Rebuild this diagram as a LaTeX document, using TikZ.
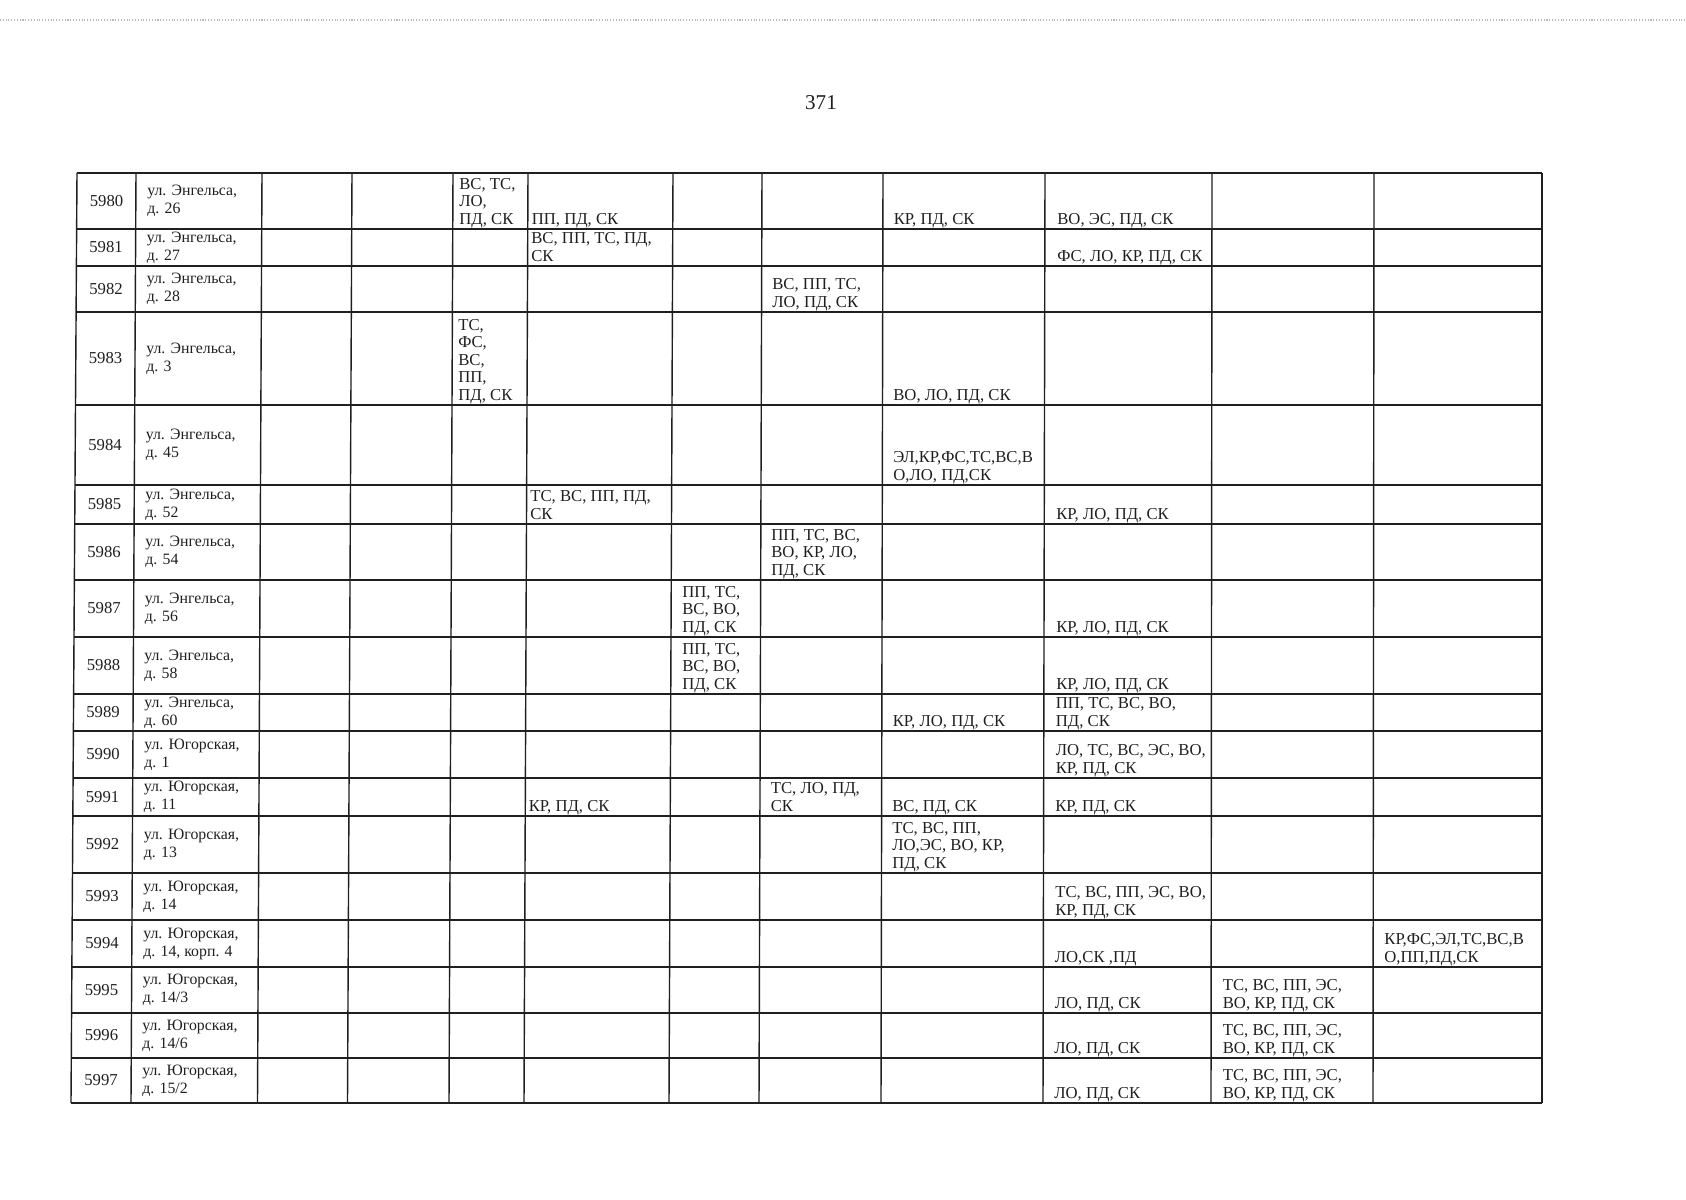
\documentclass[tikz,border=0pt]{standalone}
\usepackage{fontspec}
\setmainfont{Liberation Serif}
\definecolor{ink}{gray}{0.12}
\definecolor{speck}{gray}{0.72}

\begin{document}
\begin{tikzpicture}[x=0.2mm,y=-0.2mm]
    \tikzset{%
      gridline/.style={ink, line width=0.8pt},
      num/.style={anchor=center, inner sep=0pt, ink,
        font=\fontsize{9.5}{9.9}\selectfont},
      addr/.style={anchor=west, align=left, inner sep=0pt, ink,
        font=\fontsize{9}{10.2}\selectfont},
      cell/.style={anchor=south west, align=left, inner sep=0pt, ink,
        font=\fontsize{9.5}{9.9}\selectfont,
        execute at end node={\rule[-2.6pt]{0pt}{0pt}}},
      pageno/.style={anchor=center, inner sep=0pt, ink,
        font=\fontsize{12}{12}\selectfont},
    }
    \useasboundingbox (0,0) rectangle (1686,1200);
    % scan noise along the top edge
    \draw [speck, densely dotted, line width=0.6pt] (0,20) -- (1686,20);
    \node[pageno] (P) at (821,103) {371};

    % vertical rules (the scan is slightly skewed)
    \draw [gridline] (77,173) -- (71,1103);
    \draw [gridline] (136,173) -- (131,1103);
    \draw [gridline] (262,173) -- (257.5,1103);
    \draw [gridline] (352,173) -- (347.5,1103);
    \draw [gridline] (453,173) -- (449,1103);
    \draw [gridline] (528,173) -- (524,1103);
    \draw [gridline] (673,173) -- (669,1103);
    \draw [gridline] (762,173) -- (759,1103);
    \draw [gridline] (883,173) -- (881,1103);
    \draw [gridline] (1045,173) -- (1043,1103);
    \draw [gridline] (1212,173) -- (1211,1103);
    \draw [gridline] (1374,173) -- (1373,1103);
    \draw [gridline] (1542,173) -- (1542,1103);
    % horizontal rules
    \draw [gridline] (77,173) -- (1542,173);
    \draw [gridline] (76.6,229) -- (1542,229);
    \draw [gridline] (76.4,266) -- (1542,266);
    \draw [gridline] (76.1,312) -- (1542,312);
    \draw [gridline] (75.5,405) -- (1542,405);
    \draw [gridline] (75,485) -- (1542,485);
    \draw [gridline] (74.7,524) -- (1542,524);
    \draw [gridline] (74.4,580) -- (1542,580);
    \draw [gridline] (74,637) -- (1542,637);
    \draw [gridline] (73.6,694) -- (1542,694);
    \draw [gridline] (73.4,731) -- (1542,731);
    \draw [gridline] (73.1,778) -- (1542,778);
    \draw [gridline] (72.9,816) -- (1542,816);
    \draw [gridline] (72.5,873) -- (1542,873);
    \draw [gridline] (72.2,920) -- (1542,920);
    \draw [gridline] (71.9,967) -- (1542,967);
    \draw [gridline] (71.6,1013) -- (1542,1013);
    \draw [gridline] (71.3,1058) -- (1542,1058);
    \draw [gridline] (71,1103) -- (1542,1103);

    % 5980
    \node[num] (N80) at (106.5,201) {5980};
    \node[addr] (A80) at (147,201) {ул. Энгельса,\\д. 26};
    \node[cell] (E80d) at (459,229) {ВС, ТС,\\ЛО,\\ПД, СК};
    \node[cell] (E80e) at (531.5,229) {ПП, ПД, СК};
    \node[cell] (E80h) at (893.5,229) {КР, ПД, СК};
    \node[cell] (E80i) at (1057,229) {ВО, ЭС, ПД, СК};
    % 5981
    \node[num] (N81) at (106,247.5) {5981};
    \node[addr] (A81) at (146.5,247.5) {ул. Энгельса,\\д. 27};
    \node[cell] (E81e) at (531,266) {ВС, ПП, ТС, ПД,\\СК};
    \node[cell] (E81i) at (1057,266) {ФС, ЛО, КР, ПД, СК};
    % 5982
    \node[num] (N82) at (106,289) {5982};
    \node[addr] (A82) at (146.5,289) {ул. Энгельса,\\д. 28};
    \node[cell] (E82g) at (772,312) {ВС, ПП, ТС,\\ЛО, ПД, СК};
    % 5983
    \node[num] (N83) at (105.5,358.5) {5983};
    \node[addr] (A83) at (146,358.5) {ул. Энгельса,\\д. 3};
    \node[cell] (E83d) at (458,405) {ТС,\\ФС,\\ВС,\\ПП,\\ПД, СК};
    \node[cell] (E83h) at (893,405) {ВО, ЛО, ПД, СК};
    % 5984
    \node[num] (N84) at (105,445) {5984};
    \node[addr] (A84) at (145.5,445) {ул. Энгельса,\\д. 45};
    \node[cell] (E84h) at (893,485) {ЭЛ,КР,ФС,ТС,ВС,В\\О,ЛО, ПД,СК};
    % 5985
    \node[num] (N85) at (104.5,504.5) {5985};
    \node[addr] (A85) at (145,504.5) {ул. Энгельса,\\д. 52};
    \node[cell] (E85e) at (530,524) {ТС, ВС, ПП, ПД,\\СК};
    \node[cell] (E85i) at (1056,524) {КР, ЛО, ПД, СК};
    % 5986
    \node[num] (N86) at (104,552) {5986};
    \node[addr] (A86) at (145,552) {ул. Энгельса,\\д. 54};
    \node[cell] (E86g) at (771,580) {ПП, ТС, ВС,\\ВО, КР, ЛО,\\ПД, СК};
    % 5987
    \node[num] (N87) at (104,608.5) {5987};
    \node[addr] (A87) at (144.5,608.5) {ул. Энгельса,\\д. 56};
    \node[cell] (E87f) at (682,637) {ПП, ТС,\\ВС, ВО,\\ПД, СК};
    \node[cell] (E87i) at (1056,637) {КР, ЛО, ПД, СК};
    % 5988
    \node[num] (N88) at (103.5,665.5) {5988};
    \node[addr] (A88) at (144,665.5) {ул. Энгельса,\\д. 58};
    \node[cell] (E88f) at (682,694) {ПП, ТС,\\ВС, ВО,\\ПД, СК};
    \node[cell] (E88i) at (1056,694) {КР, ЛО, ПД, СК};
    % 5989
    \node[num] (N89) at (103,712.5) {5989};
    \node[addr] (A89) at (144,712.5) {ул. Энгельса,\\д. 60};
    \node[cell] (E89h) at (892.5,731) {КР, ЛО, ПД, СК};
    \node[cell] (E89i) at (1055.5,731) {ПП, ТС, ВС, ВО,\\ПД, СК};
    % 5990
    \node[num] (N90) at (103,754.5) {5990};
    \node[addr] (A90) at (144,754.5) {ул. Югорская,\\д. 1};
    \node[cell] (E90i) at (1055.5,778) {ЛО, ТС, ВС, ЭС, ВО,\\КР, ПД, СК};
    % 5991
    \node[num] (N91) at (102.5,797) {5991};
    \node[addr] (A91) at (143.5,797) {ул. Югорская,\\д. 11};
    \node[cell] (E91e) at (528.5,816) {КР, ПД, СК};
    \node[cell] (E91g) at (770.5,816) {ТС, ЛО, ПД,\\СК};
    \node[cell] (E91h) at (892,816) {ВС, ПД, СК};
    \node[cell] (E91i) at (1055,816) {КР, ПД, СК};
    % 5992
    \node[num] (N92) at (102.5,844.5) {5992};
    \node[addr] (A92) at (143.5,844.5) {ул. Югорская,\\д. 13};
    \node[cell] (E92h) at (892,873) {ТС, ВС, ПП,\\ЛО,ЭС, ВО, КР,\\ПД, СК};
    % 5993
    \node[num] (N93) at (102,896.5) {5993};
    \node[addr] (A93) at (143,896.5) {ул. Югорская,\\д. 14};
    \node[cell] (E93i) at (1055,920) {ТС, ВС, ПП, ЭС, ВО,\\КР, ПД, СК};
    % 5994
    \node[num] (N94) at (102,943.5) {5994};
    \node[addr] (A94) at (143,943.5) {ул. Югорская,\\д. 14, корп. 4};
    \node[cell] (E94i) at (1054.5,967) {ЛО,СК ,ПД};
    \node[cell] (E94k) at (1384,967) {КР,ФС,ЭЛ,ТС,ВС,В\\О,ПП,ПД,СК};
    % 5995
    \node[num] (N95) at (101.5,990) {5995};
    \node[addr] (A95) at (142.5,990) {ул. Югорская,\\д. 14/3};
    \node[cell] (E95i) at (1054.5,1013) {ЛО, ПД, СК};
    \node[cell] (E95j) at (1222.5,1013) {ТС, ВС, ПП, ЭС,\\ВО, КР, ПД, СК};
    % 5996
    \node[num] (N96) at (101.5,1035.5) {5996};
    \node[addr] (A96) at (142,1035.5) {ул. Югорская,\\д. 14/6};
    \node[cell] (E96i) at (1054,1058) {ЛО, ПД, СК};
    \node[cell] (E96j) at (1222.5,1058) {ТС, ВС, ПП, ЭС,\\ВО, КР, ПД, СК};
    % 5997
    \node[num] (N97) at (101,1080.5) {5997};
    \node[addr] (A97) at (142,1080.5) {ул. Югорская,\\д. 15/2};
    \node[cell] (E97i) at (1054,1103) {ЛО, ПД, СК};
    \node[cell] (E97j) at (1222.5,1103) {ТС, ВС, ПП, ЭС,\\ВО, КР, ПД, СК};
  \end{tikzpicture}
\end{document}
